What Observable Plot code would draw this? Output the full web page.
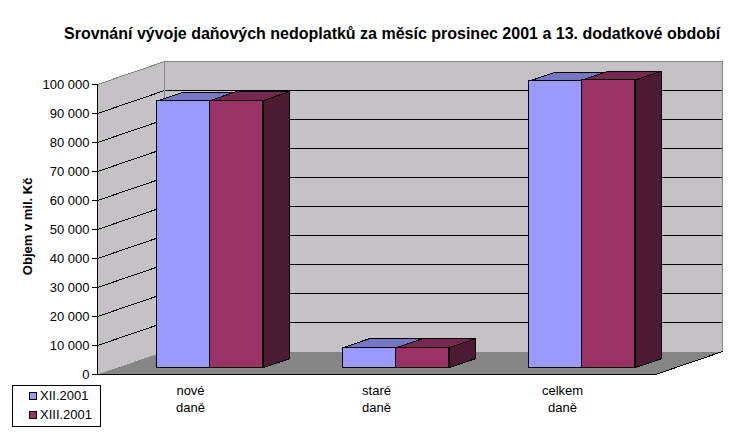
<!DOCTYPE html>
<html><head><meta charset="utf-8">
<script src="https://cdn.jsdelivr.net/npm/d3@7"></script>
<script src="https://cdn.jsdelivr.net/npm/@observablehq/plot@0.6"></script>
<style>
html,body{margin:0;padding:0;background:#fff;width:729px;height:432px;overflow:hidden;font-family:"Liberation Sans",Arial,sans-serif;color:#000}
#wrap{position:relative;width:729px;height:432px}
#title{position:absolute;left:64px;top:25px;font-weight:bold;font-size:16px;line-height:18px;white-space:nowrap}
#legend{position:absolute;left:12px;top:385px;width:87px;height:40px;border:1px solid #000;font-size:13px;line-height:19px}
#legend div{position:relative;height:19px;white-space:nowrap}
#legend i{position:absolute;left:16px;top:6px;width:6px;height:6px;border:1px solid #000}
#legend span{position:absolute;left:27px;top:0}
svg{position:absolute;left:0;top:0}
</style></head><body><div id="wrap">
<div id="title"></div><div id="legend"></div>
</div>
<script>
const chartTitle = "Srovnání vývoje daňových nedoplatků za měsíc prosinec 2001 a 13. dodatkové období";
const yTitle = "Objem v mil. Kč";
const categories = ["nové\ndaně", "staré\ndaně", "celkem\ndaně"];
const seriesNames = ["XII.2001", "XIII.2001"];
const xii = [91900, 6900, 98800];
const xiii = [92100, 6900, 99150];
const yTicks = [0,10000,20000,30000,40000,50000,60000,70000,80000,90000,100000];
const frontColors = ["#9999FF", "#993366"];
const topColors = ["#7676C2", "#772850"];
const sideColors = ["#4C4C80", "#4C1A33"];
const wallColor = "#C4C2C4", floorColor = "#868686", edgeGray = "#868686";

// depth projection in data units: a full step of depth moves right and up
const depthX = 66.6 / 186, depthY = 22.8 / 29 * 10000;
const P = (x, v, z) => ({px: x + z * depthX, py: v + z * depthY});
const xMax = categories.length, vMax = 100000;
const gapFrac = 0.2135, barW = 0.285, z0 = 0.3, z1 = 0.7;

const poly = (id, fill, stroke, pts) => pts.concat(pts[0]).map(p => ({...p, id, fill, stroke}));
let backs = [];
backs.push(poly("wall", wallColor, "none", [P(0,0,1),P(xMax,0,1),P(xMax,vMax,1),P(0,vMax,1)]));
backs.push(poly("side", wallColor, "none", [P(0,0,0),P(0,0,1),P(0,vMax,1),P(0,vMax,0)]));
backs.push(poly("floor", floorColor, "none", [P(0,0,0),P(xMax,0,0),P(xMax,0,1),P(0,0,1)]));
const lineData = (id, stroke, pts) => pts.map(p => ({...p, id, stroke}));
let grid = yTicks.filter(t => t > 0 && t < vMax).map(t => lineData("g"+t, "#000", [P(0,t,0),P(0,t,1),P(xMax,t,1)]));
let edges = [
  lineData("e1", edgeGray, [P(0,vMax,0),P(0,vMax,1),P(xMax,vMax,1),P(xMax,0,1)]),
  lineData("e2", edgeGray, [P(0,vMax,1),P(0,0,1)]),
  lineData("e3", "#000", [P(xMax,0,1),P(xMax,0,0)])
];
let faces = [], fronts = [];
categories.forEach((c, i) => {
  [xii, xiii].forEach((vals, s) => {
    const v = vals[i], xa = i + gapFrac + s * barW, xb = xa + barW, id = c + s;
    // base of the bar sits forward of the back wall at depth z0
    const fa = P(xa,0,z0), fb = P(xb,0,z0), ta = P(xa,v,z0), tb = P(xb,v,z0);
    faces.push({order: i*2+s, top: poly("t"+id, topColors[s], "#000", [ta, tb, P(xb,v,z1), P(xa,v,z1)]),
      side: poly("s"+id, sideColors[s], "#000", [fb, tb, P(xb,v,z1), P(xb,0,z1)])});
    fronts.push({x1: fa.px, x2: fb.px, y1: fa.py, y2: ta.py, s, order: i*2+s});
  });
});
const polyMark = d => Plot.line(d, {x: "px", y: "py", z: "id", fill: "fill", stroke: "stroke", strokeWidth: 1, curve: "linear"});
const strokeMark = d => Plot.line(d, {x: "px", y: "py", z: "id", stroke: "stroke", strokeWidth: 1, curve: "linear"});
const fmt = d => String(d).replace(/\B(?=(\d{3})+$)/g, " ");

const marks = [
  polyMark(backs.flat()),
  strokeMark(grid.flat()),
  strokeMark(edges.flat())
];
faces.forEach((f, k) => {
  marks.push(polyMark(f.side), polyMark(f.top));
  marks.push(Plot.rect([fronts[k]], {x1: "x1", x2: "x2", y1: "y1", y2: "y2", fill: d => frontColors[d.s], stroke: "#000", strokeWidth: 1, inset: 0}));
});
marks.push(
  Plot.ruleY([0], {x1: 0, x2: xMax, stroke: "#000"}),
  Plot.ruleX([0], {y1: 0, y2: vMax, stroke: "#000"}),
  Plot.axisY({ticks: yTicks, tickFormat: fmt, tickSize: 5, tickPadding: 3, label: null, fontSize: 13, anchor: "left", stroke:"#000"}),
  Plot.axisX({ticks: categories.map((c,i)=>i+0.5), tickFormat: (d) => categories[Math.floor(d)], tickSize: 0, tickPadding: 9, label: null, fontSize: 13, lineHeight: 1.27, anchor: "bottom"}),
  Plot.text([yTitle], {x: () => 0, y: () => 49000, dx: -70, dy: -6, rotate: -90, fontWeight: "bold", fontSize: 13, text: d => d, textAnchor: "middle"})
);

const chart = Plot.plot({
  width: 729, height: 432,
  marginLeft: 97, marginRight: 74, marginTop: 84, marginBottom: 58,
  style: {background: "transparent", fontFamily: '"Liberation Sans",Arial,sans-serif', color: "#000", shapeRendering: "crispEdges", overflow:"visible"},
  x: {domain: [0, xMax], axis: null},
  y: {domain: [0, vMax], axis: null},
  color: {type: "identity"},
  marks
});
const wrap = document.getElementById("wrap");
wrap.insertBefore(chart, wrap.firstChild);
document.getElementById("title").textContent = chartTitle;
const lg = document.getElementById("legend");
seriesNames.forEach((n, i) => {
  const r = document.createElement("div");
  const sw = document.createElement("i"); sw.style.background = frontColors[i];
  const t = document.createElement("span"); t.textContent = n;
  r.append(sw, t); lg.append(r);
});
</script></body></html>
